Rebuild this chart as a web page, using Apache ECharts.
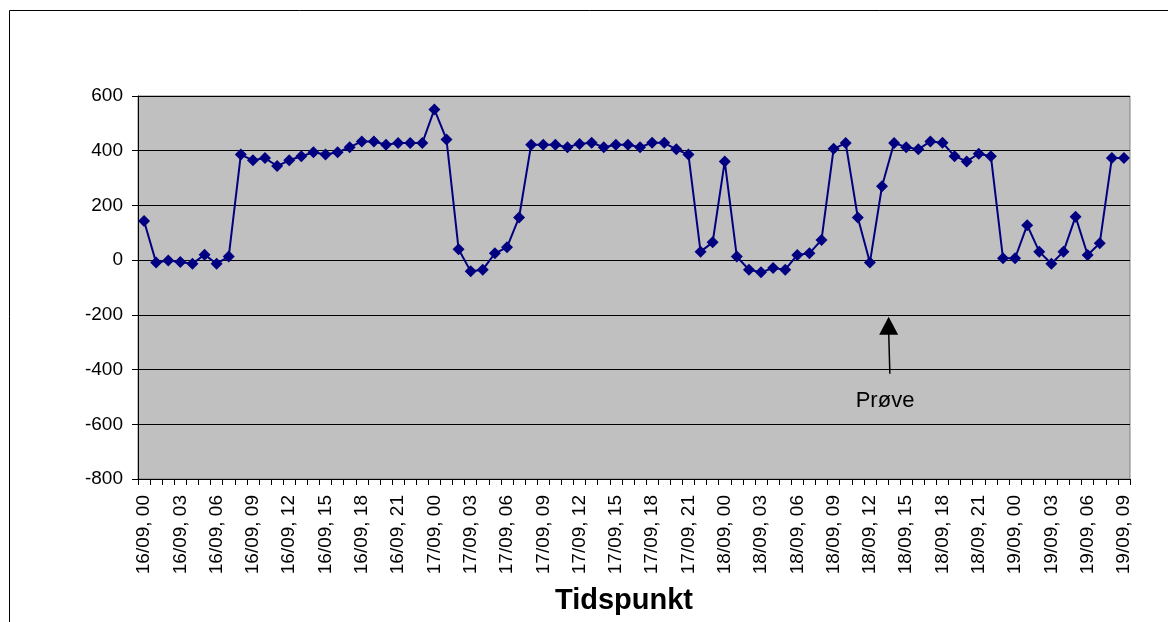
<!DOCTYPE html>
<html>
<head>
<meta charset="utf-8">
<script src="https://cdn.jsdelivr.net/npm/echarts@6/dist/echarts.min.js"></script>
<style>
html,body{margin:0;padding:0;background:#fff;}
#chart{width:1168px;height:622px;}
</style>
</head>
<body>
<div id="chart"></div>
<script>
// Categories: hourly timestamps 16/09 00 .. 19/09 09
const days = ["16/09", "17/09", "18/09", "19/09"];
const hoursPerDay = [24, 24, 24, 10];
const categories = [];
days.forEach(function (d, i) {
  for (let h = 0; h < hoursPerDay[i]; h++) {
    categories.push(d + ", " + (h < 10 ? "0" + h : "" + h));
  }
});

// Series values
const values = [
  143, -9, -1, -7, -13, 20, -13, 13, 386, 365, 373, 344, 365, 380, 394, 386, 394, 413, 434, 434, 422, 428, 428, 428,
  551, 441, 40, -41, -35, 25, 47, 156, 422, 422, 422, 413, 425, 429, 413, 422, 422, 413, 429, 429, 405, 386, 31, 65,
  361, 13, -35, -44, -29, -35, 19, 25, 74, 407, 428, 156, -9, 270, 428, 413, 405, 434, 429, 380, 361, 389, 380, 7,
  7, 128, 31, -13, 31, 159, 19, 62, 373, 373
];

const yTicks = { min: -800, max: 600, interval: 200 };
const axisTitle = "Tidspunkt";
const annotationText = "Prøve";
// annotation position in data units (fractional category index, value)
const arrowTip = [61.55, -207];
const arrowTail = [61.65, -415];
const annotationLabelPos = [61.25, -514];

const FONT = "'Liberation Sans', Arial, sans-serif";
const chart = echarts.init(document.getElementById('chart'), null, { renderer: 'canvas' });

const option = {
  animation: false,
  backgroundColor: '#ffffff',
  grid: {
    left: 138, top: 96, width: 992, height: 383,
    containLabel: false, outerBoundsMode: 'none',
    show: true, backgroundColor: '#C0C0C0', borderColor: '#808080', borderWidth: 1
  },
  xAxis: {
    type: 'category',
    data: categories,
    boundaryGap: true,
    axisLine: { show: true, onZero: false, lineStyle: { color: '#000', width: 1 } },
    axisTick: { show: true, interval: 0, length: 6, inside: false, lineStyle: { color: '#000' } },
    axisLabel: { interval: 2, rotate: 90, fontSize: 19, color: '#000', fontFamily: FONT, margin: 16, padding: [0, 0, 8, 0] },
    splitLine: { show: false },
    name: axisTitle,
    nameLocation: 'middle',
    nameGap: 107,
    nameTextStyle: { fontSize: 29, fontWeight: 'bold', color: '#000', fontFamily: FONT, padding: [0, 20, 0, 0] }
  },
  yAxis: {
    type: 'value',
    min: yTicks.min, max: yTicks.max, interval: yTicks.interval,
    axisLine: { show: true, lineStyle: { color: '#000', width: 1 } },
    axisTick: { show: true, length: 6, lineStyle: { color: '#000' } },
    axisLabel: { fontSize: 19, color: '#000', fontFamily: FONT, margin: 15 },
    splitLine: { show: true, lineStyle: { color: '#000', width: 1 } }
  },
  series: [{
    type: 'line',
    data: values,
    symbol: 'diamond',
    symbolSize: 12,
    showAllSymbol: true,
    itemStyle: { color: '#000080' },
    lineStyle: { color: '#000080', width: 2 },
    z: 3
  }]
};
chart.setOption(option);

function toPx(p) {
  const i0 = Math.floor(p[0]);
  const f = p[0] - i0;
  const a = chart.convertToPixel({ xAxisIndex: 0, yAxisIndex: 0 }, [i0, p[1]]);
  const b = chart.convertToPixel({ xAxisIndex: 0, yAxisIndex: 0 }, [i0 + 1, p[1]]);
  return [a[0] + (b[0] - a[0]) * f, a[1]];
}
const tip = toPx(arrowTip);
const tail = toPx(arrowTail);
const lab = toPx(annotationLabelPos);

chart.setOption({
  graphic: [
    {
      type: 'rect', silent: true, z: 0,
      shape: { x: 9.5, y: 10.5, width: 2000, height: 2000 },
      style: { fill: null, stroke: '#000', lineWidth: 1 }
    },
    {
      type: 'line', silent: true, z: 10,
      shape: { x1: tail[0], y1: tail[1], x2: tip[0], y2: tip[1] + 14 },
      style: { stroke: '#000', lineWidth: 1.5 }
    },
    {
      type: 'polygon', silent: true, z: 10,
      shape: { points: [[tip[0], tip[1]], [tip[0] - 9.5, tip[1] + 18], [tip[0] + 9.5, tip[1] + 18]] },
      style: { fill: '#000' }
    },
    {
      type: 'text', silent: true, z: 10,
      x: lab[0], y: lab[1],
      style: { text: annotationText, fontSize: 22, fontFamily: FONT, fill: '#000', align: 'center', verticalAlign: 'middle' }
    }
  ]
});
</script>
</body>
</html>
